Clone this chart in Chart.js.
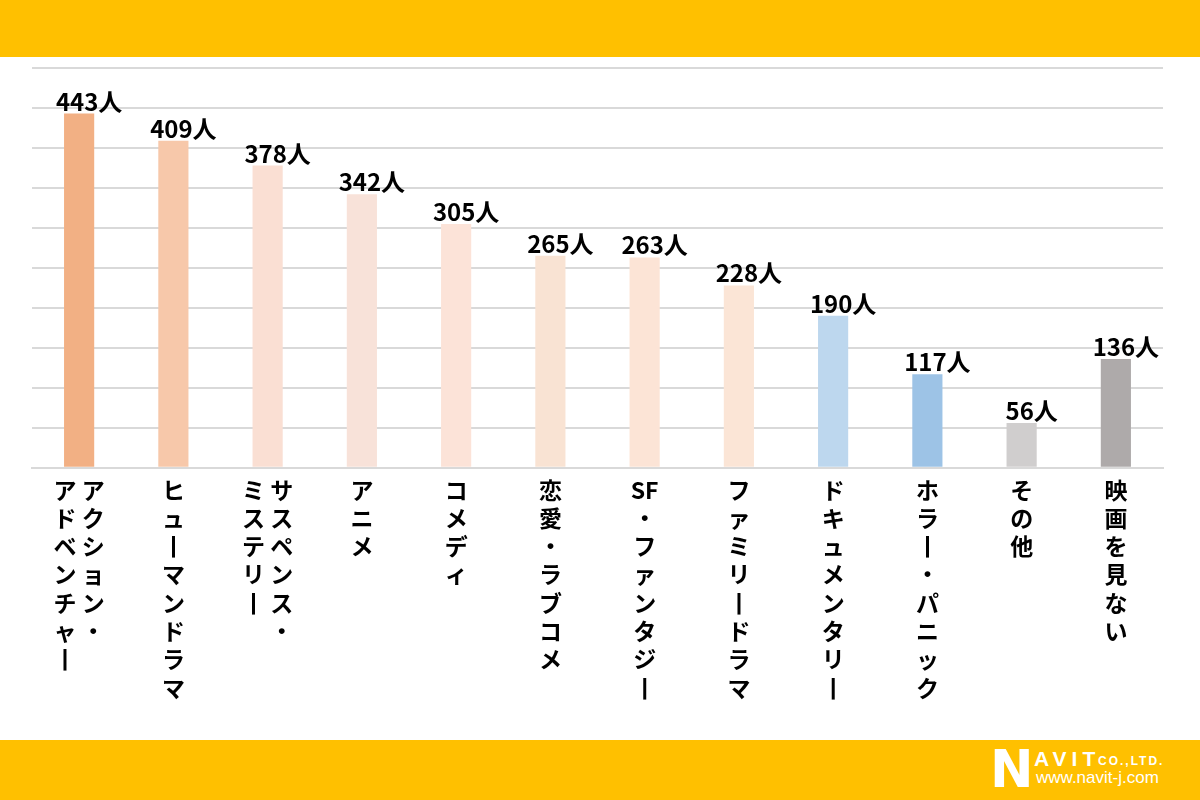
<!DOCTYPE html>
<html lang="ja">
<head>
<meta charset="utf-8">
<script src="https://cdn.jsdelivr.net/npm/chart.js@4.4.1/dist/chart.umd.min.js"></script>
<style>
  html, body { margin: 0; padding: 0; background: #fff; }
  #pagina { position: relative; width: 1200px; height: 800px; overflow: hidden; background: #fff; }
  .banda { position: absolute; left: 0; width: 1200px; background: #FFC000; }
  #bandaSup { top: 0; height: 57px; }
  #bandaInf { top: 740px; height: 60px; }
  #lienzo { position: absolute; left: 0; top: 0; }
  #logo { position: absolute; left: 990px; top: 742px; width: 210px; height: 56px; color: #fff; font-family: "Liberation Sans", Arial, sans-serif; font-weight: bold; white-space: nowrap; }
  #logo span { position: absolute; white-space: nowrap; }
  #logo .n { left: 0; top: 1px; font-size: 52px; line-height: 52px; font-family: "DejaVu Sans", sans-serif; }
  #logo .avit { left: 44px; top: 6px; font-size: 21px; letter-spacing: 5px; line-height: 22px; }
  #logo .co { left: 108px; top: 13px; font-size: 12px; line-height: 12px; letter-spacing: 2px; }
  #logo .web { left: 46px; top: 27px; font-size: 17px; line-height: 18px; font-weight: normal; }
</style>
</head>
<body>
<div id="pagina">
  <div class="banda" id="bandaSup"></div>
  <div class="banda" id="bandaInf"></div>
  <div id="logo"><span class="n">N</span><span class="avit">AVIT</span><span class="co">CO.,LTD.</span><span class="web">www.navit-j.com</span></div>
  <canvas id="lienzo" width="1200" height="800"></canvas>
</div>
<script>
// Categorías (columnas de texto vertical, de derecha a izquierda)
const categorias = [
  ["アクション・", "アドベンチャー"],
  ["ヒューマンドラマ"],
  ["サスペンス・", "ミステリー"],
  ["アニメ"],
  ["コメディ"],
  ["恋愛・ラブコメ"],
  ["SF・ファンタジー"],
  ["ファミリードラマ"],
  ["ドキュメンタリー"],
  ["ホラー・パニック"],
  ["その他"],
  ["映画を見ない"]
];
const valores = [443, 409, 378, 342, 305, 265, 263, 228, 190, 117, 56, 136];
const unidad = "人";
const coloresBarra = [
  "#F2B084", "#F7C8AA", "#FADFD3", "#F8E2D9", "#FCE3D8", "#F9E3D3",
  "#FCE4D6", "#FBE5D6", "#BDD7EE", "#9DC3E6", "#D0CECE", "#AEAAAA"
];
const ejeMax = 500;
const ejePaso = 50;

const FUENTE = '"Noto Sans CJK JP", "Noto Sans", sans-serif';

// Convierte una columna en caracteres (ー vertical -> 丨)
function trocear(txt) {
  return (txt.match(/[A-Za-z0-9]+|./gu) || []).map(c => c === "ー" ? "丨" : c);
}

// Texto vertical: una línea por carácter, columnas lado a lado
function etiquetaVertical(cols) {
  const partes = cols.map(trocear);
  if (partes.length === 1) return partes[0];
  const der = partes[0], izq = partes[1];
  const n = Math.max(der.length, izq.length);
  const lineas = [];
  for (let i = 0; i < n; i++) {
    lineas.push((izq[i] || "　") + " " + (der[i] || "　"));
  }
  return lineas;
}

const etiquetasValor = {
  id: "etiquetasValor",
  afterDatasetsDraw(chart) {
    const ctx = chart.ctx;
    const meta = chart.getDatasetMeta(0);
    ctx.save();
    ctx.font = "bold 24px " + FUENTE;
    ctx.fillStyle = "#000";
    ctx.textAlign = "center";
    ctx.textBaseline = "alphabetic";
    meta.data.forEach((barra, i) => {
      ctx.fillText(valores[i] + unidad, barra.x + 10, barra.y - 3);
    });
    ctx.restore();
  }
};

new Chart(document.getElementById("lienzo"), {
  type: "bar",
  data: {
    labels: categorias.map(etiquetaVertical),
    datasets: [{
      data: valores,
      backgroundColor: coloresBarra,
      borderWidth: 0,
      barPercentage: 0.32,
      categoryPercentage: 1
    }]
  },
  options: {
    responsive: false,
    animation: false,
    layout: { padding: { left: 32, right: 37, top: 68, bottom: 90 } },
    plugins: { legend: { display: false }, tooltip: { enabled: false } },
    scales: {
      x: {
        grid: { display: false, drawTicks: false },
        border: { display: true, color: "#D9D9D9", width: 2 },
        ticks: {
          color: "#000",
          padding: 8,
          maxRotation: 0,
          autoSkip: false,
          font: { family: FUENTE, size: 23, weight: "bold", lineHeight: 1.23 }
        }
      },
      y: {
        min: 0,
        max: ejeMax,
        ticks: { stepSize: ejePaso, display: false },
        grid: { color: "#D9D9D9", lineWidth: 2, drawTicks: false },
        border: { display: false }
      }
    }
  },
  plugins: [etiquetasValor]
});
</script>
</body>
</html>
